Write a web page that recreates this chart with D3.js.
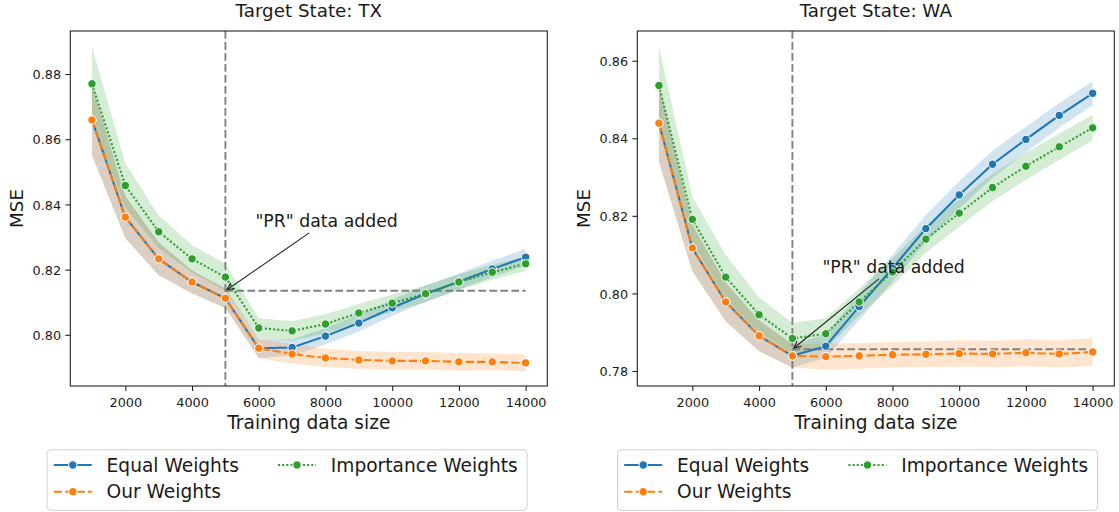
<!DOCTYPE html>
<html><head><meta charset="utf-8">
<script src="https://cdn.jsdelivr.net/npm/d3@7"></script>
<style>
html,body{margin:0;padding:0;background:#fff;}
svg{display:block;font-family:"DejaVu Sans",sans-serif;}
</style></head><body>
<svg id="chart" width="1119" height="512"></svg>
<script>
// ---------------- data ----------------
const trainingSizes = [1000,2000,3000,4000,5000,6000,7000,8000,9000,10000,11000,12000,13000,14000];
const xTickValues = [2000,4000,6000,8000,10000,12000,14000];
const seriesNames = ["Equal Weights","Our Weights","Importance Weights"];
const prAddedAt = 5000;
const annotationText = '"PR" data added';

// Target State: TX
const txEqual      = [0.8659,0.8361,0.8233,0.8162,0.8112,0.7959,0.7961,0.7996,0.8036,0.8083,0.8126,0.8163,0.8202,0.8238];
const txEqualCI    = [0.0108,0.0065,0.0050,0.0035,0.0030,0.0030,0.0025,0.0025,0.0026,0.0025,0.0025,0.0025,0.0025,0.0025];
const txOur        = [0.8659,0.8361,0.8233,0.8162,0.8112,0.7959,0.7941,0.7929,0.7923,0.7920,0.7920,0.7917,0.7917,0.7914];
const txOurCI      = [0.0108,0.0065,0.0050,0.0035,0.0030,0.0030,0.0030,0.0028,0.0027,0.0027,0.0027,0.0027,0.0026,0.0026];
const txImportance = [0.8770,0.8458,0.8316,0.8233,0.8177,0.8021,0.8012,0.8033,0.8067,0.8097,0.8126,0.8162,0.8192,0.8218];
const txImportanceCI=[0.0114,0.0068,0.0050,0.0042,0.0042,0.0030,0.0030,0.0030,0.0028,0.0027,0.0025,0.0024,0.0023,0.0022];
const txYTicks = [0.80,0.82,0.84,0.86,0.88];
const txYDomain = [0.7843,0.8932];
const txReference = 0.8135;
const txTextY = 0.8331;

// Target State: WA
const waEqual      = [0.8439,0.8117,0.7978,0.7891,0.7839,0.7864,0.7966,0.8065,0.8167,0.8254,0.8333,0.8397,0.8459,0.8516];
const waEqualCI    = [0.0100,0.0060,0.0050,0.0040,0.0030,0.0030,0.0035,0.0035,0.0035,0.0035,0.0035,0.0033,0.0032,0.0031];
const waOur        = [0.8439,0.8117,0.7978,0.7891,0.7839,0.7837,0.7839,0.7842,0.7843,0.7845,0.7844,0.7847,0.7844,0.7849];
const waOurCI      = [0.0100,0.0060,0.0050,0.0040,0.0030,0.0034,0.0033,0.0033,0.0033,0.0034,0.0034,0.0035,0.0035,0.0036];
const waImportance = [0.8536,0.8191,0.8042,0.7945,0.7884,0.7896,0.7978,0.8055,0.8140,0.8207,0.8273,0.8328,0.8378,0.8427];
const waImportanceCI=[0.0100,0.0058,0.0058,0.0045,0.0040,0.0040,0.0035,0.0035,0.0035,0.0035,0.0035,0.0035,0.0034,0.0033];
const waYTicks = [0.78,0.80,0.82,0.84,0.86];
const waYDomain = [0.77613,0.86766];
const waReference = 0.7856;
const waTextY = 0.8053;

// ---------------- styling ----------------
const colors = ["#1f77b4","#ff7f0e","#2ca02c"];
const dashes = [null,"8.3,3.1","2.08,2.08"];
const textColor = "#1a1a1a";
const axTop = 31, axBottom = 386, axWidth = 477;

const panels = [
  {title:"Target State: TX", x0:70.3, yDomain:txYDomain, yTicks:txYTicks, ref:txReference, textY:txTextY,
   series:[[txEqual,txEqualCI],[txOur,txOurCI],[txImportance,txImportanceCI]], legendX:46.6},
  {title:"Target State: WA", x0:637.3, yDomain:waYDomain, yTicks:waYTicks, ref:waReference, textY:waTextY,
   series:[[waEqual,waEqualCI],[waOur,waOurCI],[waImportance,waImportanceCI]], legendX:617}
];

const svg = d3.select("#chart");

panels.forEach(p => {
  const x = d3.scaleLinear().domain([350,14650]).range([p.x0, p.x0+axWidth]);
  const y = d3.scaleLinear().domain(p.yDomain).range([axBottom, axTop]);
  const g = svg.append("g");

  // bands
  p.series.forEach((s,i) => {
    const pts = trainingSizes.map((t,k)=>({x:t, lo:s[0][k]-s[1][k], hi:s[0][k]+s[1][k]}));
    g.append("path").datum(pts)
      .attr("d", d3.area().x(d=>x(d.x)).y0(d=>y(d.lo)).y1(d=>y(d.hi)))
      .attr("fill", colors[i]).attr("fill-opacity", 0.2).attr("stroke","none");
  });

  // reference lines
  g.append("line").attr("x1",x(prAddedAt)).attr("x2",x(prAddedAt)).attr("y1",axTop).attr("y2",axBottom)
    .attr("stroke","#808080").attr("stroke-width",1.9).attr("stroke-dasharray","7.7,3.3");
  g.append("line").attr("x1",x(prAddedAt)).attr("x2",x(trainingSizes[trainingSizes.length-1]))
    .attr("y1",y(p.ref)).attr("y2",y(p.ref))
    .attr("stroke","#808080").attr("stroke-width",1.9).attr("stroke-dasharray","7.7,3.3");

  // lines + markers
  p.series.forEach((s,i) => {
    const pts = trainingSizes.map((t,k)=>({x:t, v:s[0][k]}));
    g.append("path").datum(pts)
      .attr("d", d3.line().x(d=>x(d.x)).y(d=>y(d.v)))
      .attr("fill","none").attr("stroke",colors[i]).attr("stroke-width",2.08)
      .attr("stroke-dasharray", dashes[i]);
    g.selectAll(null).data(pts).enter().append("circle")
      .attr("cx",d=>x(d.x)).attr("cy",d=>y(d.v)).attr("r",4.2)
      .attr("fill",colors[i]).attr("stroke","#fff").attr("stroke-width",1);
  });

  // axes
  const xa = g.append("g").attr("transform",`translate(0,${axBottom})`)
    .call(d3.axisBottom(x).tickValues(xTickValues).tickFormat(d3.format("d")).tickSize(4.9).tickPadding(5));
  xa.select(".domain").remove();
  xa.selectAll("line").attr("stroke","#222").attr("stroke-width",1.1);
  xa.selectAll("text").attr("y",20.7).attr("dy",null).style("font-size","12.8px").style("font-family","DejaVu Sans").attr("fill",textColor);

  const ya = g.append("g").attr("transform",`translate(${p.x0},0)`)
    .call(d3.axisLeft(y).tickValues(p.yTicks).tickFormat(d3.format(".2f")).tickSize(4.9).tickPadding(4.3));
  ya.select(".domain").remove();
  ya.selectAll("line").attr("stroke","#222").attr("stroke-width",1.1);
  ya.selectAll("text").attr("dy","0.36em").style("font-size","12.8px").style("font-family","DejaVu Sans").attr("fill",textColor);

  // frame
  g.append("rect").attr("x",p.x0).attr("y",axTop).attr("width",axWidth).attr("height",axBottom-axTop)
    .attr("fill","none").attr("stroke","#222").attr("stroke-width",1.1);

  // titles/labels
  const cx = p.x0 + axWidth/2;
  g.append("text").attr("x",cx).attr("y",16.7).attr("text-anchor","middle")
    .style("font-size","18.3px").attr("fill",textColor).text(p.title);
  g.append("text").attr("x",cx).attr("y",429.3).attr("text-anchor","middle")
    .style("font-size","18.6px").attr("fill",textColor).text("Training data size");
  g.append("text").attr("transform",`translate(${p.x0-47.5},${(axTop+axBottom)/2}) rotate(-90)`)
    .attr("text-anchor","middle").style("font-size","18.3px").attr("fill",textColor).text("MSE");

  // annotation
  const t = g.append("text").attr("x",x(5900)).attr("y",y(p.textY))
    .style("font-size","17.3px").attr("fill",textColor).text(annotationText);
  const bb = t.node().getBBox();
  const tcx = bb.x+bb.width/2, tcy = bb.y+bb.height/2;
  const tx = x(prAddedAt), ty = y(p.ref);
  const dx = tx-tcx, dy = ty-tcy, len = Math.hypot(dx,dy);
  const tE = Math.min((bb.width/2+2)/Math.abs(dx), (bb.height/2+2)/Math.abs(dy));
  const sx = tcx+tE*dx, sy = tcy+tE*dy;
  const ux = dx/len, uy = dy/len;
  const ex = tx-2*ux, ey = ty-2*uy;
  g.append("line").attr("x1",sx).attr("y1",sy).attr("x2",ex).attr("y2",ey)
    .attr("stroke","#222").attr("stroke-width",1.1);
  const hl = 6.9, hw = 3.5;
  const px = -uy, py = ux;
  g.append("path")
    .attr("d",`M${ex-hl*ux+hw*px},${ey-hl*uy+hw*py} L${ex},${ey} L${ex-hl*ux-hw*px},${ey-hl*uy-hw*py}`)
    .attr("fill","none").attr("stroke","#222").attr("stroke-width",1.1);

  // legend
  const lg = svg.append("g").attr("transform",`translate(${p.legendX},449.3)`);
  lg.append("rect").attr("x",0.5).attr("y",0.5).attr("width",480).attr("height",60.5).attr("rx",3.5)
    .attr("fill","#fff").attr("fill-opacity",0.8).attr("stroke","#d0d0d0").attr("stroke-width",1);
  const slots = [{hx:7.2,ry:15.7},{hx:7.2,ry:42.4},{hx:231.4,ry:15.7}];
  seriesNames.forEach((name,i) => {
    const s = slots[i];
    lg.append("line").attr("x1",s.hx).attr("x2",s.hx+38).attr("y1",s.ry).attr("y2",s.ry)
      .attr("stroke",colors[i]).attr("stroke-width",2.08).attr("stroke-dasharray",dashes[i]);
    lg.append("circle").attr("cx",s.hx+19).attr("cy",s.ry).attr("r",4.2)
      .attr("fill",colors[i]).attr("stroke","#fff").attr("stroke-width",1);
    lg.append("text").attr("x",s.hx+52.8).attr("y",s.ry).attr("dy","0.36em")
      .style("font-size","18.6px").attr("fill",textColor).text(name);
  });
});
</script>
</body></html>
